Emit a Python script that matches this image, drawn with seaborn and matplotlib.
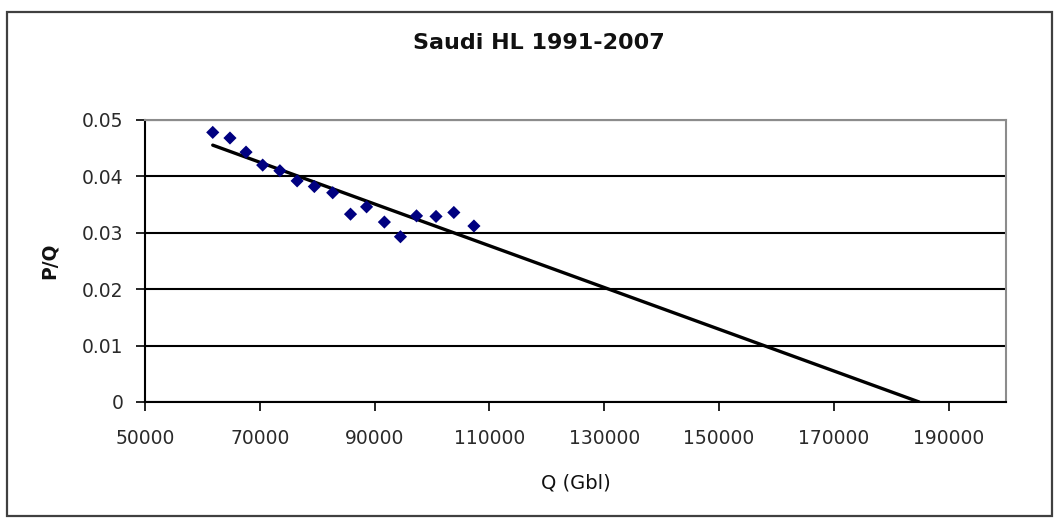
import numpy as np
import pandas as pd
import matplotlib
matplotlib.use("Agg")
import matplotlib.pyplot as plt
from matplotlib.patches import Rectangle
import seaborn as sns

# Saudi Hubbert linearization, 1991-2007
cum_q = [61800, 64800, 67600, 70500, 73500, 76500, 79500, 82700,
         85800, 88600, 91700, 94500, 97300, 100700, 103800, 107300]
p_over_q = [0.0478, 0.0468, 0.0443, 0.0420, 0.0410, 0.0392, 0.0382, 0.0371,
            0.0333, 0.0346, 0.0319, 0.0293, 0.0330, 0.0329, 0.0336, 0.0312]
x_ticks = [50000, 70000, 90000, 110000, 130000, 150000, 170000, 190000]
y_ticks = [0, 0.01, 0.02, 0.03, 0.04, 0.05]

df = pd.DataFrame({"Q": cum_q, "PQ": p_over_q})

# Linear trend, extended forward to where P/Q reaches zero (URR)
slope, intercept = np.polyfit(df["Q"], df["PQ"], 1)
urr = -intercept / slope
trend = pd.DataFrame({"Q": [df["Q"].min(), urr]})
trend["PQ"] = intercept + slope * trend["Q"]

sns.set_style("white")
plt.rcParams["font.family"] = ["DejaVu Sans"]

fig = plt.figure(figsize=(10.6, 5.23), dpi=100)
ax = fig.add_axes([0.1368, 0.2314, 0.8123, 0.5392])

sns.lineplot(data=trend, x="Q", y="PQ", color="black", linewidth=2.4, ax=ax)
sns.scatterplot(data=df, x="Q", y="PQ", marker="D", s=45, color="#000080",
                edgecolor="none", ax=ax, zorder=3)

ax.set_xlim(50000, 200000)
ax.set_ylim(0, 0.05)
ax.set_xticks(x_ticks)
ax.set_yticks(y_ticks)
ax.set_xticklabels([str(t) for t in x_ticks])
ax.set_yticklabels(["0"] + [f"{t:.2f}" for t in y_ticks[1:]])
ax.tick_params(axis="both", direction="out", length=6.5, width=1.2,
               color="black", labelsize=13.5, labelcolor="#2a2a2a")
ax.tick_params(axis="x", pad=13)
ax.tick_params(axis="y", pad=9)
ax.xaxis.set_ticks_position("bottom")
ax.yaxis.set_ticks_position("left")

ax.yaxis.grid(True, color="black", linewidth=1.5)
ax.xaxis.grid(False)
ax.set_axisbelow(True)

for side in ["left", "bottom"]:
    ax.spines[side].set_color("black")
    ax.spines[side].set_linewidth(1.5)
for side in ["top", "right"]:
    ax.spines[side].set_color("#8c8c8c")
    ax.spines[side].set_linewidth(1.5)

ax.set_xlabel("Q (Gbl)", fontsize=14, color="#111111")
ax.xaxis.set_label_coords(0.5, -0.287)
ax.xaxis.label.set_va("center")
ax.set_ylabel("P/Q", fontsize=13.5, fontweight="bold", color="#111111")
ax.yaxis.set_label_coords(-0.1115, 0.5)
ax.yaxis.label.set_va("center")

fig.text(0.508, 0.918, "Saudi HL 1991-2007", fontsize=16, fontweight="bold",
         ha="center", va="center", color="#111111")

# chart area border
fig.patches.append(Rectangle((7 / 1060, 7 / 523), 1045 / 1060, 504 / 523,
                             transform=fig.transFigure, fill=False,
                             edgecolor="#404040", linewidth=1.6))

fig.savefig("out.png", dpi=100)
plt.close(fig)
